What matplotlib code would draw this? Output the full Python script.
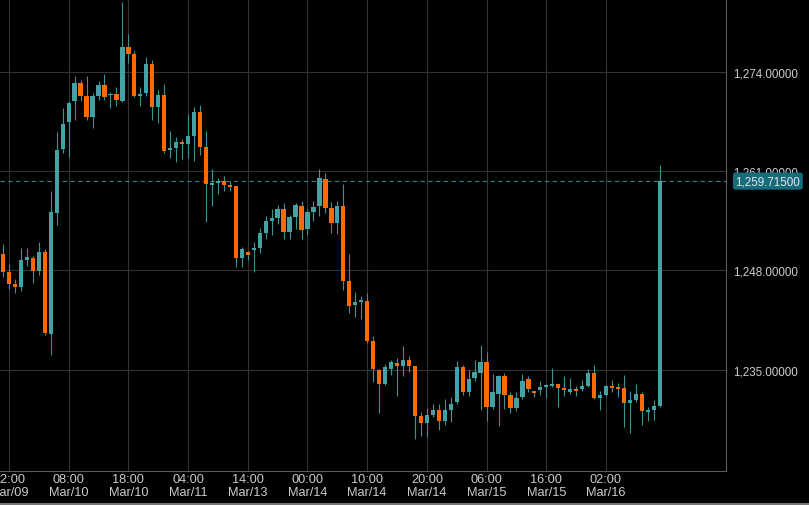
import matplotlib
matplotlib.use("Agg")
import matplotlib.pyplot as plt
import matplotlib.ticker as mtick
import matplotlib.transforms as mtrans
from matplotlib.lines import Line2D
import numpy as np

# ==========================================================
# 1. Hourly OHLC data
# ==========================================================
opens = [
    1250.17, 1247.76, 1246.19, 1245.83, 1249.38, 1249.64, 1247.93, 1250.39, 1239.67, 1255.58,
    1263.94, 1267.44, 1270.20, 1272.60, 1270.85, 1268.18, 1270.93, 1272.33, 1270.98, 1271.15,
    1270.20, 1277.28, 1276.40, 1270.93, 1271.25, 1275.09, 1269.49, 1271.02, 1263.85, 1264.11,
    1264.82, 1264.56, 1265.68, 1268.75, 1264.24, 1259.26, 1259.52, 1259.78, 1259.22, 1259.05,
    1249.60, 1250.47, 1250.73, 1250.99, 1252.92, 1254.53, 1254.89, 1256.07, 1253.01, 1255.02,
    1256.42, 1253.44, 1255.71, 1256.50, 1260.00, 1256.16, 1254.23, 1256.42, 1246.62, 1243.47,
    1243.91, 1244.00, 1238.75, 1234.95, 1233.11, 1235.08, 1235.87, 1235.43, 1236.30, 1235.43,
    1228.87, 1228.00, 1229.04, 1229.66, 1228.26, 1229.70, 1230.71, 1235.30, 1232.02, 1233.86,
    1234.55, 1236.04, 1230.05, 1231.80, 1234.20, 1231.67, 1229.92, 1231.37, 1233.77, 1232.15,
    1232.32, 1232.76, 1232.81, 1233.11, 1232.55, 1232.10, 1232.45, 1232.45, 1232.89, 1234.55,
    1231.27, 1231.67, 1232.81, 1232.68, 1232.59, 1230.58, 1231.02, 1231.80, 1229.48, 1229.74,
    1230.19,
]

highs = [
    1251.48, 1248.85, 1246.88, 1250.95, 1250.95, 1249.94, 1251.74, 1250.82, 1258.43, 1266.13,
    1269.28, 1270.20, 1273.47, 1273.03, 1273.47, 1271.28, 1272.86, 1273.78, 1271.38, 1272.07,
    1283.18, 1279.02, 1276.83, 1272.11, 1275.97, 1275.61, 1271.72, 1272.47, 1266.34, 1265.55,
    1265.25, 1268.53, 1269.41, 1269.71, 1266.34, 1261.31, 1260.14, 1260.36, 1259.70, 1259.13,
    1251.04, 1250.60, 1251.70, 1253.62, 1255.19, 1256.07, 1256.59, 1256.85, 1255.28, 1256.85,
    1257.16, 1256.07, 1257.16, 1261.31, 1260.79, 1256.95, 1257.16, 1259.35, 1250.17, 1245.14,
    1244.69, 1245.01, 1239.45, 1235.08, 1235.73, 1236.30, 1236.48, 1238.14, 1236.74, 1235.51,
    1229.48, 1229.92, 1230.49, 1230.49, 1231.14, 1231.37, 1236.17, 1235.60, 1234.99, 1236.30,
    1238.23, 1237.27, 1234.42, 1234.29, 1234.55, 1232.10, 1232.02, 1234.42, 1234.20, 1232.23,
    1233.47, 1233.11, 1235.21, 1233.15, 1234.12, 1233.86, 1232.81, 1233.64, 1235.08, 1235.60,
    1232.23, 1232.98, 1233.64, 1233.20, 1234.29, 1232.23, 1233.11, 1232.10, 1230.05, 1231.02,
    1261.88,
]

lows = [
    1247.15, 1245.57, 1245.05, 1245.27, 1248.63, 1246.36, 1247.41, 1239.54, 1236.95, 1254.01,
    1263.41, 1262.93, 1267.74, 1270.20, 1267.74, 1266.69, 1270.41, 1270.41, 1269.36, 1269.62,
    1270.06, 1275.22, 1270.80, 1269.62, 1270.85, 1267.78, 1267.35, 1263.37, 1262.72, 1262.27,
    1262.63, 1262.72, 1262.40, 1263.19, 1254.40, 1256.50, 1258.04, 1258.47, 1258.47, 1248.50,
    1248.42, 1249.38, 1247.84, 1250.30, 1252.13, 1252.66, 1254.10, 1252.13, 1252.13, 1253.44,
    1252.13, 1252.66, 1254.53, 1255.19, 1255.54, 1252.92, 1252.79, 1245.44, 1242.42, 1241.86,
    1241.64, 1238.49, 1233.41, 1229.27, 1232.98, 1234.29, 1231.58, 1234.20, 1234.65, 1225.90,
    1226.33, 1226.12, 1228.74, 1227.12, 1227.73, 1228.09, 1230.49, 1231.67, 1231.50, 1233.54,
    1229.74, 1228.30, 1229.83, 1227.56, 1229.83, 1229.31, 1229.61, 1231.14, 1232.10, 1231.37,
    1231.67, 1231.23, 1232.68, 1230.05, 1231.58, 1231.80, 1231.58, 1232.23, 1232.68, 1231.14,
    1229.74, 1231.58, 1232.10, 1231.37, 1227.51, 1226.69, 1230.71, 1227.78, 1228.30, 1228.43,
    1230.05,
]

closes = [
    1247.84, 1246.19, 1245.87, 1249.38, 1249.77, 1247.93, 1250.39, 1239.84, 1255.67, 1263.81,
    1267.22, 1270.01, 1272.60, 1270.93, 1268.18, 1270.85, 1272.33, 1270.80, 1271.19, 1270.41,
    1277.28, 1276.40, 1270.93, 1271.15, 1275.09, 1269.49, 1271.02, 1263.72, 1264.07, 1264.82,
    1264.56, 1265.68, 1268.75, 1264.24, 1259.35, 1259.52, 1259.78, 1259.22, 1258.92, 1249.60,
    1250.82, 1250.07, 1250.99, 1252.92, 1254.53, 1254.89, 1256.07, 1253.09, 1254.98, 1256.59,
    1253.31, 1255.71, 1256.29, 1260.14, 1256.16, 1254.23, 1256.42, 1246.66, 1243.38, 1243.87,
    1244.13, 1238.79, 1235.08, 1233.11, 1235.30, 1236.04, 1235.41, 1236.30, 1235.51, 1228.95,
    1228.00, 1229.04, 1229.74, 1228.26, 1229.70, 1230.49, 1235.30, 1232.02, 1233.77, 1234.72,
    1236.04, 1230.13, 1232.02, 1234.20, 1231.67, 1229.92, 1231.27, 1233.47, 1232.45, 1231.89,
    1232.76, 1232.98, 1233.11, 1232.59, 1232.32, 1232.45, 1232.15, 1232.85, 1234.55, 1231.27,
    1231.67, 1232.89, 1232.59, 1232.45, 1230.58, 1231.02, 1231.80, 1229.61, 1229.74, 1230.26,
    1259.715,
]

# one label every 10 candles, first one on candle #1
time_labels = [
    "22:00\nMar/09", "08:00\nMar/10", "18:00\nMar/10", "04:00\nMar/11",
    "14:00\nMar/13", "00:00\nMar/14", "10:00\nMar/14", "20:00\nMar/14",
    "06:00\nMar/15", "16:00\nMar/15", "02:00\nMar/16",
]

price_ticks = [1235, 1248, 1261, 1274]
last_price = 1259.715

# ==========================================================
# 2. Styling
# ==========================================================
bg_color = "#000000"
up_color = "#45a2a2"
down_color = "#ff6a00"
wick_color = "#3a9292"
grid_color = "#333333"
spine_color = "#5a5a5a"
text_color = "#cccccc"
last_line_color = "#2a8496"
last_box_color = "#156c7d"

plt.rcParams["font.family"] = ["Liberation Sans", "DejaVu Sans"]

W, H = 809, 506
plot_w, plot_h = 725.7, 472.3

fig = plt.figure(figsize=(W / 100, H / 100), dpi=100, facecolor=bg_color)
ax = fig.add_axes([0, 1 - plot_h / H, plot_w / W, plot_h / H], facecolor=bg_color)

# ==========================================================
# 3. Candles
# ==========================================================
o = np.array(opens)
h = np.array(highs)
l = np.array(lows)
c = np.array(closes)
x = np.arange(len(o))

is_up = c >= o
colors = np.where(is_up, up_color, down_color)
body_bottom = np.minimum(o, c)
body_height = np.maximum(np.abs(c - o), 0.15)

ax.vlines(x, l, h, color=wick_color, linewidth=0.8, zorder=2)
ax.bar(x, body_height, bottom=body_bottom, width=0.72,
       color=colors, linewidth=0, zorder=3)

# last price dashed line
ax.axhline(last_price, color=last_line_color, linewidth=0.8,
           linestyle=(0, (4, 3)), zorder=1.5)

# ==========================================================
# 4. Axes
# ==========================================================
ax.set_xlim(-0.5, 121.05)
ax.set_ylim(1221.65, 1283.6)

ax.set_xticks(np.arange(1, len(o), 10)[: len(time_labels)])
ax.set_xticklabels(time_labels)
ax.set_yticks(price_ticks)
ax.yaxis.set_major_formatter(mtick.FuncFormatter(lambda v, pos: f"{v:,.5f}"))
ax.yaxis.tick_right()

ax.tick_params(axis="x", length=0, pad=1.5, labelsize=9.2, labelcolor=text_color)
ax.tick_params(axis="y", length=0, pad=5.3, labelsize=8.4, labelcolor=text_color)
for lbl in ax.get_xticklabels():
    lbl.set_linespacing(1.05)

ax.grid(True, color=grid_color, linewidth=0.8)
ax.set_axisbelow(True)

for side in ["left", "top"]:
    ax.spines[side].set_visible(False)
for side in ["right", "bottom"]:
    ax.spines[side].set_color(spine_color)
    ax.spines[side].set_linewidth(0.8)

# last price tag on the price axis
trans = mtrans.blended_transform_factory(ax.transAxes, ax.transData)
ax.text(
    735.5 / plot_w, last_price, f"{last_price:,.5f}",
    transform=trans, ha="left", va="center",
    fontsize=8.4, color="#e6e6e6", clip_on=False, zorder=10,
    bbox=dict(boxstyle="round,pad=0.22", fc=last_box_color, ec="none"),
)

# thin grey strip at the bottom edge of the window
fig.add_artist(Line2D([0, 1], [0.002, 0.002], transform=fig.transFigure,
                      color="#777777", linewidth=1.5))

fig.savefig("out.png", dpi=100, facecolor=bg_color)
